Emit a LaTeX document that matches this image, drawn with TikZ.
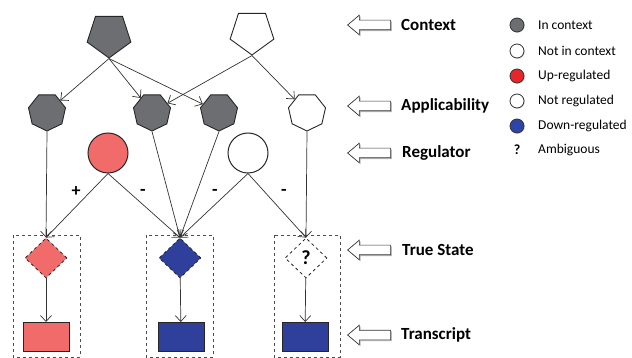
\documentclass[tikz,border=0pt]{standalone}
\usepackage{fontspec}
\setmainfont{Carlito}
\usetikzlibrary{arrows.meta}
\usetikzlibrary{shapes.geometric}
\usetikzlibrary{shapes.arrows}
\usetikzlibrary{shadows}

\definecolor{ingray}{HTML}{6D6E71}
\definecolor{upred}{HTML}{F26B6B}
\definecolor{downblue}{HTML}{2E3F9C}
\definecolor{legred}{HTML}{E8262A}
\definecolor{legblue}{HTML}{2E44A8}

\tikzset{
  edge/.style={draw=black!80, line width=0.7pt, -{Straight Barb[length=6pt,width=11pt]}},
  context/.style={regular polygon, regular polygon sides=5, shape border rotate=180,
    minimum size=46pt, inner sep=0pt, draw=black!85, line width=0.9pt},
  applic/.style={regular polygon, regular polygon sides=7, shape border rotate=180,
    minimum size=38pt, inner sep=0pt, draw=black!85, line width=0.9pt},
  regulator/.style={circle, minimum size=40pt, inner sep=0pt, draw=black!85, line width=1pt},
  truestate/.style={diamond, minimum width=42pt, minimum height=40pt, inner sep=0pt,
    draw=black!85, line width=0.8pt, dashed},
  transcript/.style={rectangle, minimum width=46pt, minimum height=29pt, inner sep=0pt,
    draw=black!85, line width=1pt},
  statebox/.style={draw=black!70, line width=0.8pt, dashed},
  levelarrow/.style={single arrow, shape border rotate=180, fill=white, draw=black!80,
    line width=0.7pt, minimum height=43pt, inner sep=4.5pt, single arrow head extend=5pt,
    single arrow tip angle=80,
    drop shadow={shadow xshift=1.2pt, shadow yshift=-1.2pt, fill=black!55}},
  levellabel/.style={anchor=west, inner sep=0pt, font=\fontsize{17}{19}\selectfont\bfseries},
  legenddot/.style={circle, minimum size=14pt, inner sep=0pt, draw=black!80, line width=0.8pt,
    drop shadow={shadow xshift=0.8pt, shadow yshift=-0.8pt, fill=black!30}},
  legendtext/.style={anchor=west, inner sep=0pt, font=\fontsize{13.5}{15}\selectfont},
  sign/.style={font=\fontsize{18}{20}\selectfont\bfseries}
}

\begin{document}
\begin{tikzpicture}[x=1pt, y=-1pt]
  \useasboundingbox (0,0) rectangle (632,358);

  % Context
  \node[context, fill=ingray] (ctx1) at (109,35) {};
  \node[context, fill=white] (ctx2) at (252,32) {};

  % Applicability
  \node[applic, fill=ingray] (app1) at (47,112) {};
  \node[applic, fill=ingray] (app2) at (152,112) {};
  \node[applic, fill=ingray] (app3) at (219,112) {};
  \node[applic, fill=white] (app4) at (307,112) {};

  % Regulators
  \node[regulator, fill=upred] (reg1) at (108,153) {};
  \node[regulator, fill=white] (reg2) at (248,153) {};

  % True state boxes
  \draw[statebox] (13,235) rectangle (80,357);
  \draw[statebox] (146,235) rectangle (213,357);
  \draw[statebox] (274,235) rectangle (340,357);

  % True state
  \node[truestate, fill=upred] (ts1) at (46,258) {};
  \node[truestate, fill=downblue] (ts2) at (180,258) {};
  \node[truestate, fill=white, font=\fontsize{20}{22}\selectfont\bfseries] (ts3) at (306,258) {?};

  % Transcripts
  \node[transcript, fill=upred] (tr1) at (46,337) {};
  \node[transcript, fill=downblue] (tr2) at (181,337) {};
  \node[transcript, fill=downblue] (tr3) at (305,337) {};

  % Context -> applicability
  \draw[edge] (ctx1.south) -- (app1);
  \draw[edge] (ctx1.south) -- (app2);
  \draw[edge] (ctx1.south) -- (app3);
  \draw[edge] (ctx2.south) -- (app2);
  \draw[edge] (ctx2.south) -- (app4);

  % Applicability and regulators -> true state
  \draw[edge] (app1.south) -- (ts1.north);
  \draw[edge] (reg1.south) -- (ts1.north);
  \draw[edge] (reg1.south) -- (ts2.north);
  \draw[edge] (app2.south) -- (ts2.north);
  \draw[edge] (app3.south) -- (ts2.north);
  \draw[edge] (reg2.south) -- (ts2.north);
  \draw[edge] (reg2.south) -- (ts3.north);
  \draw[edge] (app4.south) -- (ts3.north);

  % True state -> transcript
  \draw[edge] (ts1) -- (tr1);
  \draw[edge] (ts2) -- (tr2);
  \draw[edge] (ts3) -- (tr3);

  % Signs
  \node[sign] (s1) at (76,192) {+};
  \node[sign] (s2) at (143,192) {-};
  \node[sign] (s3) at (215,192) {-};
  \node[sign] (s4) at (284,192) {-};

  % Level arrows and labels
  \node[levelarrow] (la1) at (372,25) {};
  \node[levellabel] (ll1) at (401,25) {Context};
  \node[levelarrow] (la2) at (372,106) {};
  \node[levellabel] (ll2) at (401,106) {Applicability};
  \node[levelarrow] (la3) at (372,153) {};
  \node[levellabel] (ll3) at (402,153) {Regulator};
  \node[levelarrow] (la4) at (372,250) {};
  \node[levellabel] (ll4) at (402,250) {True State};
  \node[levelarrow] (la5) at (372,335) {};
  \node[levellabel] (ll5) at (401,335) {Transcript};

  % Legend
  \node[legenddot, fill=ingray] (lg1) at (517,25) {};
  \node[legendtext] (lt1) at (538,25) {In context};
  \node[legenddot, fill=white] (lg2) at (517,51) {};
  \node[legendtext] (lt2) at (538,51) {Not in context};
  \node[legenddot, fill=legred] (lg3) at (517,76) {};
  \node[legendtext] (lt3) at (538,76) {Up-regulated};
  \node[legenddot, fill=white] (lg4) at (517,101) {};
  \node[legendtext] (lt4) at (538,101) {Not regulated};
  \node[legenddot, fill=legblue] (lg5) at (517,126) {};
  \node[legendtext] (lt5) at (538,126) {Down-regulated};
  \node[font=\fontsize{14}{16}\selectfont\bfseries] (lg6) at (517,150) {?};
  \node[legendtext] (lt6) at (538,150) {Ambiguous};
\end{tikzpicture}
\end{document}
